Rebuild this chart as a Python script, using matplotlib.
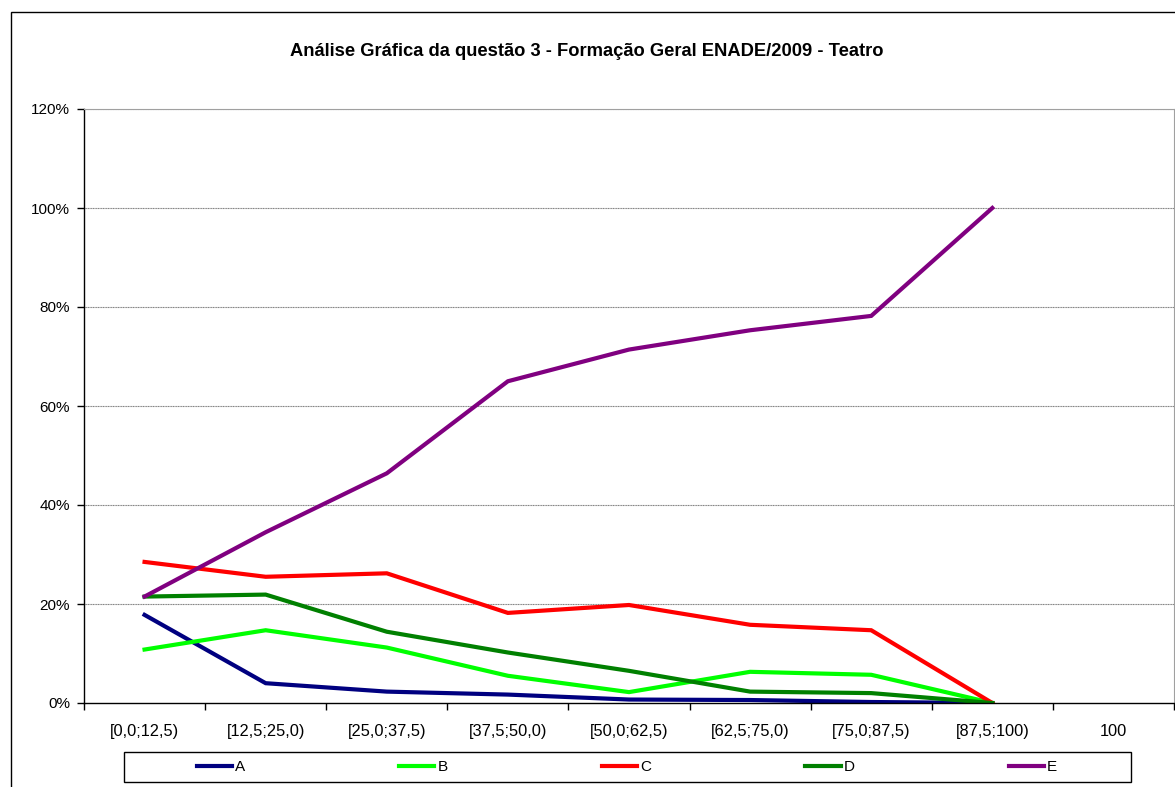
import matplotlib
matplotlib.use("Agg")
import matplotlib.pyplot as plt
import numpy as np
from matplotlib.patches import Rectangle

plt.rcParams['font.family'] = ['Liberation Sans', 'DejaVu Sans']

categories = ["[0,0;12,5)", "[12,5;25,0)", "[25,0;37,5)", "[37,5;50,0)",
              "[50,0;62,5)", "[62,5;75,0)", "[75,0;87,5)", "[87,5;100)", "100"]
series_A = [17.8, 4.0, 2.3, 1.7, 0.7, 0.6, 0.2, 0.0, None]
series_B = [10.8, 14.7, 11.2, 5.5, 2.2, 6.3, 5.7, 0.0, None]
series_C = [28.5, 25.5, 26.2, 18.2, 19.8, 15.8, 14.7, 0.0, None]
series_D = [21.5, 21.9, 14.4, 10.2, 6.5, 2.3, 2.0, 0.0, None]
series_E = [21.5, 34.5, 46.4, 65.0, 71.4, 75.3, 78.2, 100.0, None]
series_names = ["A", "B", "C", "D", "E"]
colors = ["#000080", "#00FF00", "#FF0000", "#008000", "#800080"]
title = "Análise Gráfica da questão 3 - Formação Geral ENADE/2009 - Teatro"

W, H = 1175, 787
fig = plt.figure(figsize=(W / 100, H / 100), dpi=100)

# outer chart border
fig.patches.append(Rectangle((11 / W, -0.1), 2.0, (H - 12) / H + 0.1,
                             transform=fig.transFigure, fill=False,
                             edgecolor="black", linewidth=1.0, zorder=0))

left, right, top, bottom = 84, 1174, 109, 703
ax = fig.add_axes([left / W, 1 - bottom / H, (right - left) / W, (bottom - top) / H])

x = np.arange(len(categories))
all_series = [series_A, series_B, series_C, series_D, series_E]
for name, vals, col in zip(series_names, all_series, colors):
    v = np.array([np.nan if a is None else a for a in vals], dtype=float)
    ax.plot(x, v, color=col, linewidth=3.0, label=name, solid_joinstyle='miter', zorder=3)

ax.set_xlim(-0.5, len(categories) - 0.5)
ax.set_ylim(0, 120)
ax.set_yticks(np.arange(0, 121, 20))
ax.set_yticklabels([f"{int(t)}%" for t in np.arange(0, 121, 20)], fontsize=11)
ax.set_xticks(x)
ax.set_xticklabels(categories, fontsize=11.8)
ax.set_xticks(np.arange(-0.5, len(categories), 1.0), minor=True)
ax.tick_params(axis='x', which='major', length=0, pad=15)
ax.tick_params(axis='x', which='minor', length=5, direction='out', width=1)
ax.tick_params(axis='y', length=5, direction='out', width=1, pad=5)

for g in np.arange(20, 121, 20):
    ax.axhline(g, color="#808080", linewidth=0.8, linestyle=(0, (1, 0.5)), zorder=1)

for s in ['top', 'right']:
    ax.spines[s].set_color("#a0a0a0")
    ax.spines[s].set_linewidth(0.8)
for s in ['left', 'bottom']:
    ax.spines[s].set_color("black")
    ax.spines[s].set_linewidth(1.0)
ax.spines['bottom'].set_zorder(4)

fig.text(587 / W, 1 - 52 / H, title, ha='center', va='center',
         fontsize=13.2, fontweight='bold')

# legend frame
fig.patches.append(Rectangle((124 / W, 1 - 782 / H), (1131 - 124) / W, 30 / H,
                             transform=fig.transFigure, fill=False,
                             edgecolor="black", linewidth=1.0))
leg = fig.legend(loc='center', bbox_to_anchor=(627 / W, 1 - 767 / H),
                 ncol=5, frameon=False, fontsize=11, handlelength=2.3,
                 handletextpad=0.2, columnspacing=10.1, borderpad=0.2)

fig.savefig("out.png", dpi=100)
